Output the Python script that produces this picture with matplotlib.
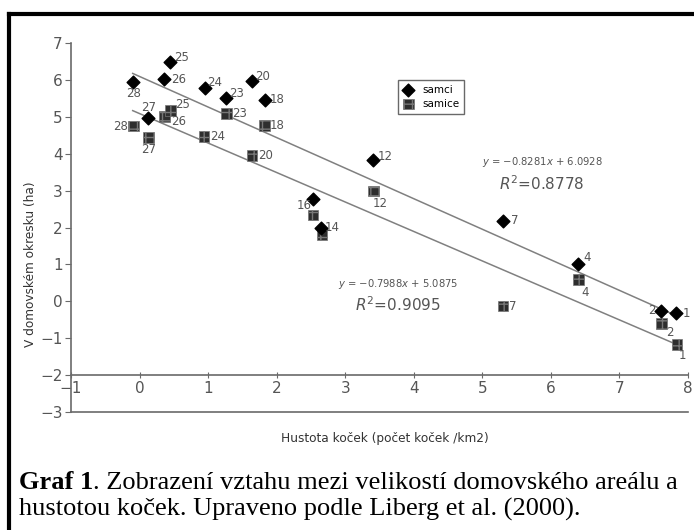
import matplotlib.pyplot as plt
from matplotlib.lines import Line2D

# samci (males)
m_x = [-0.09, 0.44, 0.35, 0.13, 0.95, 1.26, 1.64, 1.83, 2.53, 2.65, 3.41, 5.30, 6.40, 7.60, 7.83]
m_y = [5.95, 6.48, 6.02, 4.96, 5.77, 5.52, 5.97, 5.46, 2.77, 2.00, 3.83, 2.18, 1.01, -0.25, -0.33]
m_lab = ["28", "25", "26", "27", "24", "23", "20", "18", "16", "14", "12", "7", "4", "2", "1"]
# samice (females)
f_x = [-0.09, 0.13, 0.36, 0.45, 0.94, 1.27, 1.64, 1.82, 2.53, 2.66, 3.41, 5.30, 6.40, 7.61, 7.84]
f_y = [4.75, 4.44, 5.00, 5.17, 4.46, 5.08, 3.95, 4.76, 2.34, 1.82, 2.99, -0.13, 0.60, -0.60, -1.18]
f_lab = ["28", "27", "26", "25", "24", "23", "20", "18", "", "", "12", "7", "4", "2", "1"]

m_slope, m_icpt, m_r2 = -0.8281, 6.0928, 0.8778
f_slope, f_icpt, f_r2 = -0.7988, 5.0875, 0.9095
fit_x = [-0.1, 7.85]

# label offsets in pixels
m_off = [(0, -12), (12, 5), (15, 0), (0, 11), (10, 6), (11, 4), (11, 5), (12, 0),
         (-9, -6), (11, 0), (12, 3), (12, 0), (9, 7), (-9, 0), (10, 0)]
f_off = [(-13, 0), (0, -12), (14, -5), (12, 6), (14, 0), (13, 0), (14, 0), (13, 0),
         (0, 0), (0, 0), (7, -13), (10, 0), (7, -13), (9, -9), (5, -11)]

gray = "#555555"
fig = plt.figure(figsize=(6.94, 5.30), dpi=100)
ax = fig.add_axes([71 / 694, 1 - 412 / 530, 617 / 694, 369 / 530])

ax.plot(fit_x, [m_slope * v + m_icpt for v in fit_x], color="#808080", lw=1.1, zorder=1)
ax.plot(fit_x, [f_slope * v + f_icpt for v in fit_x], color="#808080", lw=1.1, zorder=1)

ax.scatter(m_x, m_y, marker="D", s=42, color="black", zorder=3, label="samci")
ax.scatter(f_x, f_y, marker="s", s=60, facecolor="#2e2e2e", edgecolor="#777777",
           hatch="++", linewidth=0.5, zorder=2, label="samice")

for x, y, t, (dx, dy) in zip(m_x, m_y, m_lab, m_off):
    if t:
        ax.annotate(t, (x, y), xytext=(dx * 0.72, dy * 0.72), textcoords="offset points",
                    ha="center", va="center", fontsize=8.5, color=gray)
for x, y, t, (dx, dy) in zip(f_x, f_y, f_lab, f_off):
    if t:
        ax.annotate(t, (x, y), xytext=(dx * 0.72, dy * 0.72), textcoords="offset points",
                    ha="center", va="center", fontsize=8.5, color=gray)

ax.text(5.87, 3.77, r"$y$ = −0.8281$x$ + 6.0928", ha="center", va="center",
        fontsize=7.2, color=gray)
ax.text(5.87, 3.2, r"$R^2$=0.8778", ha="center", va="center", fontsize=11, color=gray)
ax.text(3.77, 0.47, r"$y$ = −0.7988$x$ + 5.0875", ha="center", va="center",
        fontsize=7.2, color=gray)
ax.text(3.77, -0.1, r"$R^2$=0.9095", ha="center", va="center", fontsize=11, color=gray)

ax.set_xlim(-1, 8)
ax.set_ylim(-3, 7)
ax.set_xticks(range(-1, 9))
ax.set_yticks(range(-3, 8))
for s in ["top", "right"]:
    ax.spines[s].set_visible(False)
ax.spines["bottom"].set_position(("data", -2))
for s in ["left", "bottom"]:
    ax.spines[s].set_color("#6a6a6a")
    ax.spines[s].set_linewidth(1.2)
ax.axhline(-3, color="#6a6a6a", lw=1.2, clip_on=False)
ax.tick_params(axis="x", direction="inout", length=5, colors="#6a6a6a", labelcolor=gray,
               labelsize=11, pad=2)
ax.tick_params(axis="y", direction="out", length=4, colors="#6a6a6a", labelcolor=gray,
               labelsize=11, pad=2)
ax.patch.set_alpha(0)

ax.set_ylabel("V domovském okresku (ha)", fontsize=8.7, color="#333333")
ax.yaxis.set_label_coords(-0.055, 0.40)
ax.set_xlabel("Hustota koček (počet koček /km2)", fontsize=8.7, color="#333333")
ax.xaxis.set_label_coords(0.508, -0.055)

leg = ax.legend(loc="upper left", bbox_to_anchor=(0.53, 0.90), borderaxespad=0,
                fontsize=7.5, frameon=True, fancybox=False, edgecolor="#444444",
                handletextpad=0.8, borderpad=0.5, labelspacing=0.35, handlelength=1.0)
leg.get_frame().set_linewidth(1.0)

# outer frame (top and left edges visible)
fig.add_artist(Line2D([9 / 694, 1], [1 - 14 / 530, 1 - 14 / 530], color="black", lw=3,
                      transform=fig.transFigure))
fig.add_artist(Line2D([9 / 694, 9 / 694], [0, 1 - 14 / 530], color="black", lw=3,
                      transform=fig.transFigure))

# caption
cap = fig.text(19 / 694, 1 - 489 / 530, "Graf 1", fontsize=19, fontweight="bold",
               family="Liberation Serif", va="baseline")
fig.canvas.draw()
bb = cap.get_window_extent()
fig.text(bb.x1 / 694, 1 - 489 / 530, ". Zobrazení vztahu mezi velikostí domovského areálu a",
         fontsize=19, family="Liberation Serif", va="baseline")
fig.text(19 / 694, 1 - 516 / 530, "hustotou koček. Upraveno podle Liberg et al. (2000).",
         fontsize=19, family="Liberation Serif", va="baseline")

fig.savefig("out.png", dpi=100)
